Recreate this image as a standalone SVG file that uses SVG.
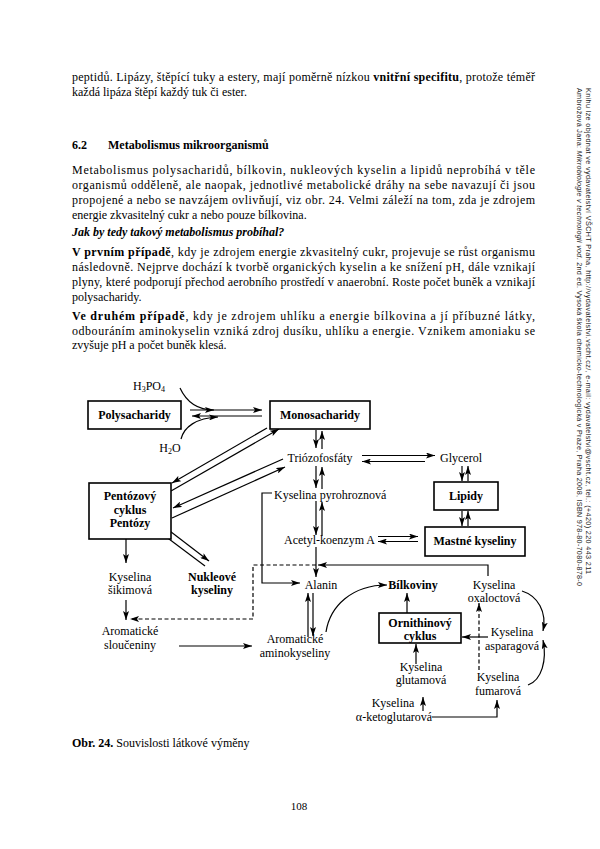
<svg xmlns="http://www.w3.org/2000/svg" width="600" height="849" viewBox="0 0 600 849">
<defs>
<style>
text{font-family:"Liberation Serif","Times New Roman",serif;font-size:12px;fill:#000}
.b{font-weight:bold}
.bi{font-weight:bold;font-style:italic}
.c{text-anchor:middle}
.ln{fill:none;stroke:#000;stroke-width:1.2}
.dash{fill:none;stroke:#000;stroke-width:1.2;stroke-dasharray:4 2.5}
.box{fill:#fff;stroke:#000;stroke-width:1.6}
.side{font-family:"Liberation Sans",Arial,sans-serif;font-size:7.2px;fill:#222}
.pg{font-size:11px}
</style>
<marker id="ah" markerUnits="userSpaceOnUse" viewBox="0 0 10 6" markerWidth="10" markerHeight="6" refX="9" refY="3" orient="auto">
<path d="M0,0 L9,3 L0,6 L2,3 Z" fill="#000"/>
</marker>
</defs>
<rect x="0" y="0" width="600" height="849" fill="#fff"/>

<g id="body-text">
<text x="72" y="81" textLength="463">peptidů. Lipázy, štěpící tuky a estery, mají poměrně nízkou <tspan class="b">vnitřní specifitu</tspan>, protože téměř</text>
<text x="72" y="96">každá lipáza štěpí každý tuk či ester.</text>
<text x="72" y="149" class="b">6.2</text>
<text x="108" y="149" class="b">Metabolismus mikroorganismů</text>
<text x="72" y="174" textLength="463">Metabolismus polysacharidů, bílkovin, nukleových kyselin a lipidů neprobíhá v těle</text>
<text x="72" y="189" textLength="463">organismů odděleně, ale naopak, jednotlivé metabolické dráhy na sebe navazují či jsou</text>
<text x="72" y="204" textLength="463">propojené a nebo se navzájem ovlivňují, viz obr. 24. Velmi záleží na tom, zda je zdrojem</text>
<text x="72" y="219">energie zkvasitelný cukr a nebo pouze bílkovina.</text>
<text x="72" y="236" class="bi">Jak by tedy takový metabolismus probíhal?</text>
<text x="72" y="256" textLength="463"><tspan class="b">V prvním případě</tspan>, kdy je zdrojem energie zkvasitelný cukr, projevuje se růst organismu</text>
<text x="72" y="271" textLength="463">následovně. Nejprve dochází k tvorbě organických kyselin a ke snížení pH, dále vznikají</text>
<text x="72" y="286" textLength="463">plyny, které podporují přechod aerobního prostředí v anaerobní. Roste počet buněk a vznikají</text>
<text x="72" y="301">polysacharidy.</text>
<text x="72" y="320" textLength="463"><tspan class="b">Ve druhém případě</tspan>, kdy je zdrojem uhlíku a energie bílkovina a jí příbuzné látky,</text>
<text x="72" y="335" textLength="463">odbouráním aminokyselin vzniká zdroj dusíku, uhlíku a energie. Vznikem amoniaku se</text>
<text x="72" y="349">zvyšuje pH a počet buněk klesá.</text>
<text x="72" y="747"><tspan class="b">Obr. 24.</tspan> Souvislosti látkové výměny</text>
<text x="299" y="810" class="c pg">108</text>
</g>

<g id="side-note">
<text class="side" transform="translate(577,88) rotate(90)" textLength="498">Ambrožová Jana: <tspan font-style="italic">Mikrobiologie v technologii vod</tspan>. 2nd ed. Vysoká škola chemicko-technologická v Praze, Praha 2008, ISBN 978-80-7080-878-0</text>
<text class="side" transform="translate(586,88) rotate(90)" textLength="486">Knihu lze objednat ve vydavatelství VŠCHT Praha, http://vydavatelstvi.vscht.cz/, e-mail: vydavatelstvi@vscht.cz, tel.: (+420) 220 443 211</text>
</g>

<g id="connectors">
<path class="ln" d="M190,410 H262" marker-end="url(#ah)"/>
<path class="ln" d="M262,416 H192" marker-end="url(#ah)"/>
<path class="ln" d="M180,388 C186,401 196,410 214,410" marker-end="url(#ah)"/>
<path class="ln" d="M181,439 C184,427 196,418 218,417" marker-end="url(#ah)"/>
<path class="ln" d="M316,430 V448" marker-end="url(#ah)"/>
<path class="ln" d="M322,449 V431" marker-end="url(#ah)"/>
<path class="ln" d="M316,466 V488" marker-end="url(#ah)"/>
<path class="ln" d="M322,489 V467" marker-end="url(#ah)"/>
<path class="ln" d="M316,501 V535" marker-end="url(#ah)"/>
<path class="ln" d="M322,536 V502" marker-end="url(#ah)"/>
<path class="ln" d="M316,547 V577" marker-end="url(#ah)"/>
<path class="ln" d="M272,493 H262 V583 H300" marker-end="url(#ah)"/>
<path class="ln" d="M362,455.5 H435" marker-end="url(#ah)"/>
<path class="ln" d="M425,461.5 H362" marker-end="url(#ah)"/>
<path class="ln" d="M462,466 V481" marker-end="url(#ah)"/>
<path class="ln" d="M468,481 V466" marker-end="url(#ah)"/>
<path class="ln" d="M462,511 V526" marker-end="url(#ah)"/>
<path class="ln" d="M468,526 V511" marker-end="url(#ah)"/>
<path class="ln" d="M378,536.5 H418" marker-end="url(#ah)"/>
<path class="ln" d="M418,541.5 H378" marker-end="url(#ah)"/>
<path class="ln" d="M171,491 L279,429" marker-end="url(#ah)"/>
<path class="ln" d="M267,428 L172,483" marker-end="url(#ah)"/>
<path class="ln" d="M283,459 L173,508" marker-end="url(#ah)"/>
<path class="ln" d="M172,518 L285,467" marker-end="url(#ah)"/>
<path class="ln" d="M205,566 L157,530" marker-end="url(#ah)"/>
<path class="ln" d="M162,525 L209,561" marker-end="url(#ah)"/>
<path class="ln" d="M126,539 V563" marker-end="url(#ah)"/>
<path class="ln" d="M126,600 V620" marker-end="url(#ah)"/>
<path class="dash" d="M316,565 H253 V619 H130" marker-end="url(#ah)"/>
<path class="ln" d="M179,646 H252" marker-end="url(#ah)"/>
<path class="ln" d="M308,637 V593" marker-end="url(#ah)"/>
<path class="ln" d="M313,593 V636" marker-end="url(#ah)"/>
<path class="ln" d="M326,632 C330,606 352,585 387,585" marker-end="url(#ah)"/>
<path class="ln" d="M407,613 V593" marker-end="url(#ah)"/>
<path class="ln" d="M488,576 V565 H318" marker-end="url(#ah)"/>
<path class="ln" d="M488,637 H462" marker-end="url(#ah)"/>
<path class="ln" d="M416,664 V644" marker-end="url(#ah)"/>
<path class="dash" d="M479,670 V603" marker-end="url(#ah)"/>
<path class="ln" d="M522,591 C538,596 547,612 543,631" marker-end="url(#ah)"/>
<path class="ln" d="M528,685 C542,680 547,660 543,640" marker-end="url(#ah)"/>
<path class="ln" d="M423,711 V697" stroke-width="1.6" marker-end="url(#ah)"/>
<path class="ln" d="M432,717 H497 V700" marker-end="url(#ah)"/>
</g>

<g id="n-h3po4"><text class="c" x="149" y="390">H<tspan font-size="8" dy="2">3</tspan><tspan dy="-2">PO</tspan><tspan font-size="8" dy="2">4</tspan></text></g>
<g id="n-h2o"><text class="c" x="170" y="452">H<tspan font-size="8" dy="2">2</tspan><tspan dy="-2">O</tspan></text></g>
<g id="n-poly"><rect class="box" x="88" y="401" width="93" height="28"/><text class="b c" x="134.5" y="419">Polysacharidy</text></g>
<g id="n-mono"><rect class="box" x="270" y="401" width="100" height="28"/><text class="b c" x="320" y="419">Monosacharidy</text></g>
<g id="n-trio"><text class="c" x="320" y="462">Triózofosfáty</text></g>
<g id="n-glycerol"><text class="c" x="461" y="462">Glycerol</text></g>
<g id="n-lipidy"><rect class="box" x="434" y="482" width="64" height="28"/><text class="b c" x="466" y="500">Lipidy</text></g>
<g id="n-pyro"><text x="274" y="499">Kyselina pyrohroznová</text></g>
<g id="n-acetyl"><text x="284" y="544">Acetyl-koenzym A</text></g>
<g id="n-mastne"><rect class="box" x="425" y="527" width="100" height="29"/><text class="b c" x="475" y="545">Mastné kyseliny</text></g>
<g id="n-pentoza"><rect class="box" x="89" y="483" width="82" height="56"/><text class="b c" x="130" y="500">Pentózový</text><text class="b c" x="130" y="513.5">cyklus</text><text class="b c" x="130" y="527">Pentózy</text></g>
<g id="n-sikimova"><text class="c" x="130" y="581">Kyselina</text><text class="c" x="130" y="594">šikimová</text></g>
<g id="n-nukleove"><text class="b c" x="212" y="581">Nukleové</text><text class="b c" x="212" y="594">kyseliny</text></g>
<g id="n-alanin"><text class="c" x="321" y="589">Alanin</text></g>
<g id="n-bilkoviny"><text class="b c" x="413" y="589">Bílkoviny</text></g>
<g id="n-oxaloctova"><text class="c" x="494" y="589">Kyselina</text><text class="c" x="494" y="602">oxaloctová</text></g>
<g id="n-arom-slouc"><text class="c" x="130" y="635">Aromatické</text><text class="c" x="130" y="648.5">sloučeniny</text></g>
<g id="n-arom-amino"><text class="c" x="295" y="643">Aromatické</text><text class="c" x="295" y="657">aminokyseliny</text></g>
<g id="n-ornithin"><rect class="box" x="379" y="613" width="82" height="30"/><text class="b c" x="420" y="627">Ornithinový</text><text class="b c" x="420" y="640">cyklus</text></g>
<g id="n-asparagova"><text class="c" x="512" y="636">Kyselina</text><text class="c" x="512" y="650">asparagová</text></g>
<g id="n-glutamova"><text class="c" x="421" y="671">Kyselina</text><text class="c" x="421" y="684">glutamová</text></g>
<g id="n-fumarova"><text class="c" x="498" y="681">Kyselina</text><text class="c" x="498" y="695">fumarová</text></g>
<g id="n-ketoglutarova"><text class="c" x="393" y="707">Kyselina</text><text class="c" x="394" y="721">α-ketoglutarová</text></g>
</svg>
